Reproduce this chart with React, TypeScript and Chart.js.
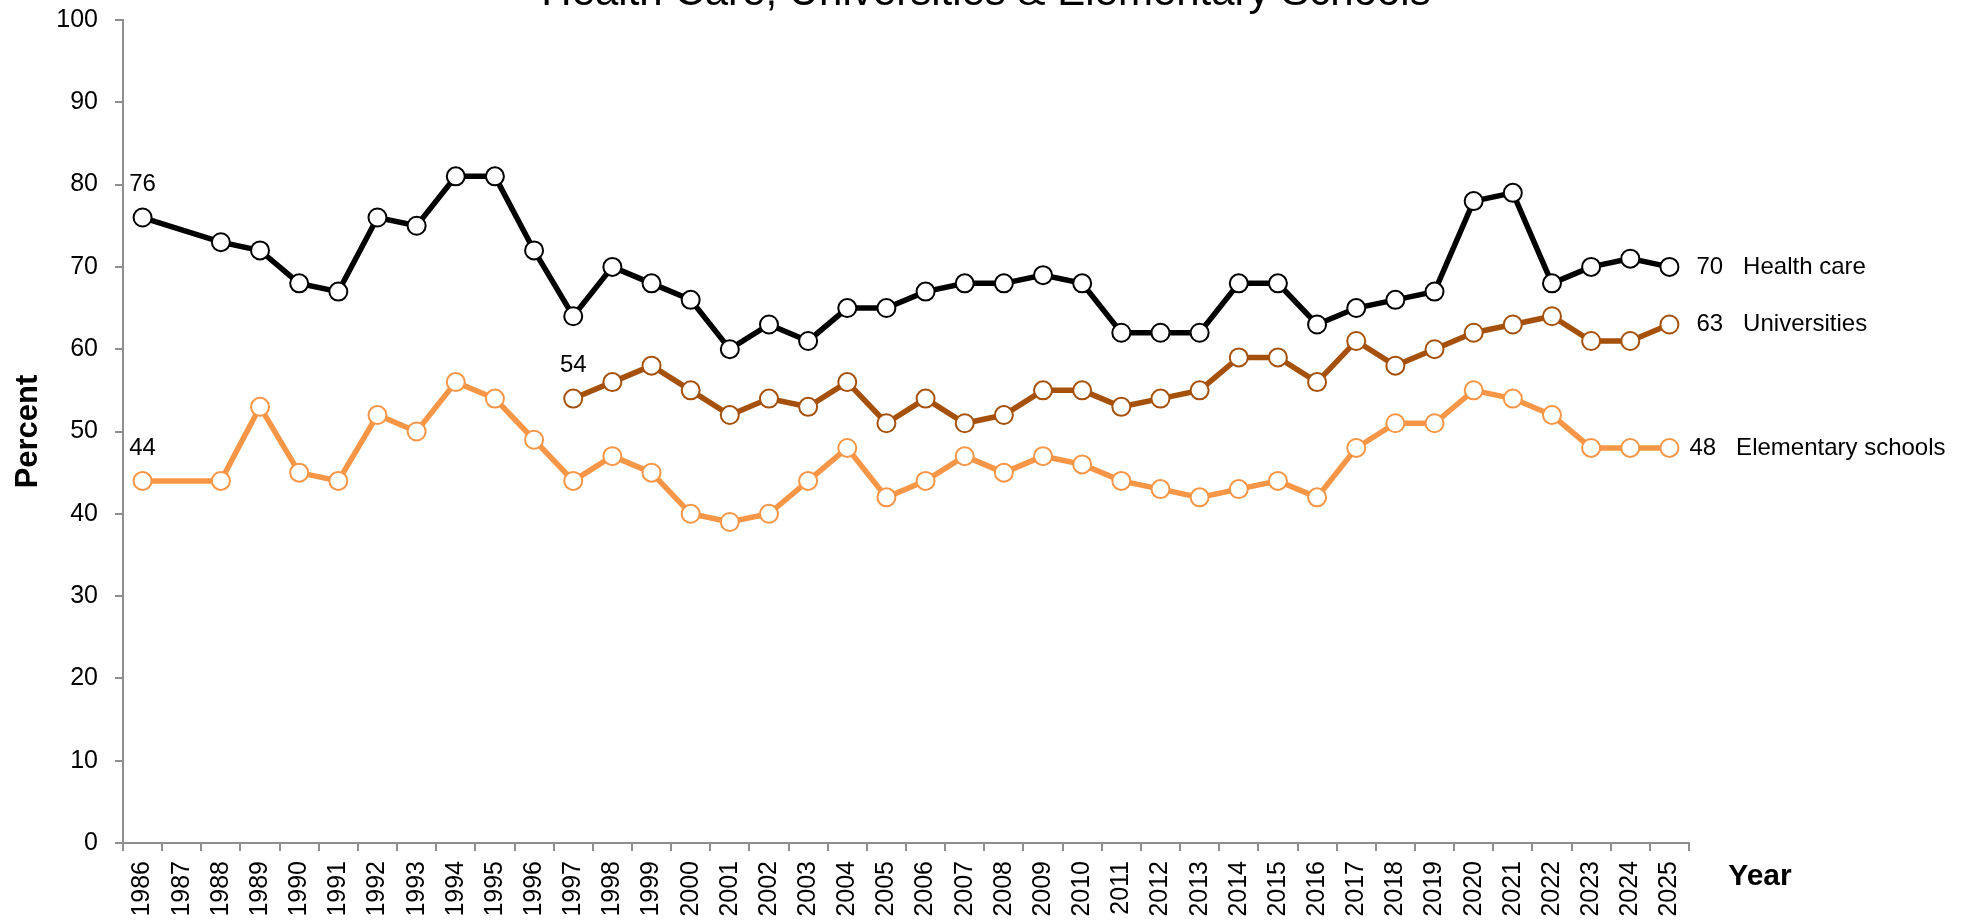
import React, { useEffect, useRef } from 'react';
import { Chart, registerables } from 'chart.js';

Chart.register(...registerables);

const FONT = '"Liberation Sans", Arial, Helvetica, sans-serif';

const chartTitle = 'Health Care, Universities & Elementary Schools';
const yAxisTitle = 'Percent';
const xAxisTitle = 'Year';

const years = [
  '1986', '1987', '1988', '1989', '1990', '1991', '1992', '1993', '1994', '1995',
  '1996', '1997', '1998', '1999', '2000', '2001', '2002', '2003', '2004', '2005',
  '2006', '2007', '2008', '2009', '2010', '2011', '2012', '2013', '2014', '2015',
  '2016', '2017', '2018', '2019', '2020', '2021', '2022', '2023', '2024', '2025',
];

const healthCare = [
  76, null, 73, 72, 68, 67, 76, 75, 81, 81,
  72, 64, 70, 68, 66, 60, 63, 61, 65, 65,
  67, 68, 68, 69, 68, 62, 62, 62, 68, 68,
  63, 65, 66, 67, 78, 79, 68, 70, 71, 70,
];

const universities = [
  null, null, null, null, null, null, null, null, null, null,
  null, 54, 56, 58, 55, 52, 54, 53, 56, 51,
  54, 51, 52, 55, 55, 53, 54, 55, 59, 59,
  56, 61, 58, 60, 62, 63, 64, 61, 61, 63,
];

const elementarySchools = [
  44, null, 44, 53, 45, 44, 52, 50, 56, 54,
  49, 44, 47, 45, 40, 39, 40, 44, 48, 42,
  44, 47, 45, 47, 46, 44, 43, 42, 43, 44,
  42, 48, 51, 51, 55, 54, 52, 48, 48, 48,
];

const seriesNames = ['Health care', 'Universities', 'Elementary schools'];
const seriesColors = ['#000000', '#A5500B', '#F79646'];
const seriesData = [healthCare, universities, elementarySchools];

const AXIS_COLOR = '#8f8f8f';

const labelPlugin = {
  id: 'customLabels',
  afterDraw(chart: any) {
    const ctx = chart.ctx;
    ctx.save();
    ctx.fillStyle = '#000';

    // Title (partly clipped at the top as in the reference)
    ctx.font = `42px ${FONT}`;
    ctx.textAlign = 'center';
    ctx.textBaseline = 'alphabetic';
    ctx.fillText(chartTitle, 986, 5);

    // X axis title
    ctx.font = `bold 30px ${FONT}`;
    ctx.textAlign = 'center';
    ctx.textBaseline = 'middle';
    ctx.fillText(xAxisTitle, 1760, 877);

    // start & end labels
    ctx.font = `24px ${FONT}`;
    seriesData.forEach((data, i) => {
      const meta = chart.getDatasetMeta(i);
      let first = -1;
      let last = -1;
      data.forEach((v, idx) => {
        if (v !== null) {
          if (first < 0) first = idx;
          last = idx;
        }
      });
      if (first >= 0) {
        const p = meta.data[first];
        ctx.textAlign = 'center';
        ctx.textBaseline = 'middle';
        ctx.fillText(String(data[first]), p.x, p.y - 33);
      }
      if (last >= 0) {
        const p = meta.data[last];
        ctx.textAlign = 'left';
        ctx.textBaseline = 'middle';
        const dx = i === 2 ? 20 : 27;
        ctx.fillText(`${data[last]}   ${seriesNames[i]}`, p.x + dx, p.y);
      }
    });
    ctx.restore();
  },
};

export default function App() {
  const canvasRef = useRef<HTMLCanvasElement | null>(null);

  useEffect(() => {
    document.body.style.margin = '0';
    const canvas = canvasRef.current;
    if (!canvas) return;

    const datasets = seriesData.map((data, i) => ({
      label: seriesNames[i],
      data,
      borderColor: seriesColors[i],
      backgroundColor: '#ffffff',
      borderWidth: 5.5,
      pointRadius: 9,
      pointHoverRadius: 9,
      pointBorderWidth: 2,
      pointBackgroundColor: '#ffffff',
      pointBorderColor: seriesColors[i],
      tension: 0,
      spanGaps: true,
      fill: false,
    }));

    const chart = new Chart(canvas, {
      type: 'line',
      data: { labels: years, datasets },
      options: {
        animation: false,
        responsive: false,
        devicePixelRatio: 1,
        layout: { padding: { top: 20, right: 279, bottom: 0, left: 0 } },
        plugins: {
          legend: { display: false },
          tooltip: { enabled: false },
          title: { display: false },
        },
        scales: {
          x: {
            type: 'category',
            offset: true,
            grid: {
              offset: true,
              drawOnChartArea: false,
              drawTicks: true,
              tickLength: 8,
              color: AXIS_COLOR,
              lineWidth: 2,
            },
            border: { display: true, color: AXIS_COLOR, width: 2 },
            ticks: {
              autoSkip: false,
              maxRotation: 90,
              minRotation: 90,
              padding: 10,
              color: '#000',
              font: { family: FONT, size: 25 },
            },
            afterFit: (s: any) => {
              s.height = 77;
              s.paddingLeft = 0;
              s.paddingRight = 0;
              s.paddingTop = 0;
              s.paddingBottom = 0;
            },
          },
          y: {
            min: 0,
            max: 100,
            ticks: {
              stepSize: 10,
              padding: 17,
              color: '#000',
              font: { family: FONT, size: 25 },
            },
            grid: {
              drawOnChartArea: false,
              drawTicks: true,
              tickLength: 8,
              color: AXIS_COLOR,
              lineWidth: 2,
            },
            border: { display: true, color: AXIS_COLOR, width: 2 },
            title: {
              display: true,
              text: yAxisTitle,
              color: '#000',
              font: { family: FONT, size: 31, weight: 'bold' },
              padding: { top: 10, bottom: 0 },
            },
            afterFit: (s: any) => {
              s.width = 123;
              s.paddingLeft = 0;
              s.paddingRight = 0;
              s.paddingTop = 0;
              s.paddingBottom = 0;
            },
          },
        },
      },
      plugins: [labelPlugin],
    });

    return () => {
      chart.destroy();
    };
  }, []);

  return (
    <div style={{ width: 1968, height: 920 }}>
      <canvas ref={canvasRef} width={1968} height={920} style={{ display: 'block' }} />
    </div>
  );
}
